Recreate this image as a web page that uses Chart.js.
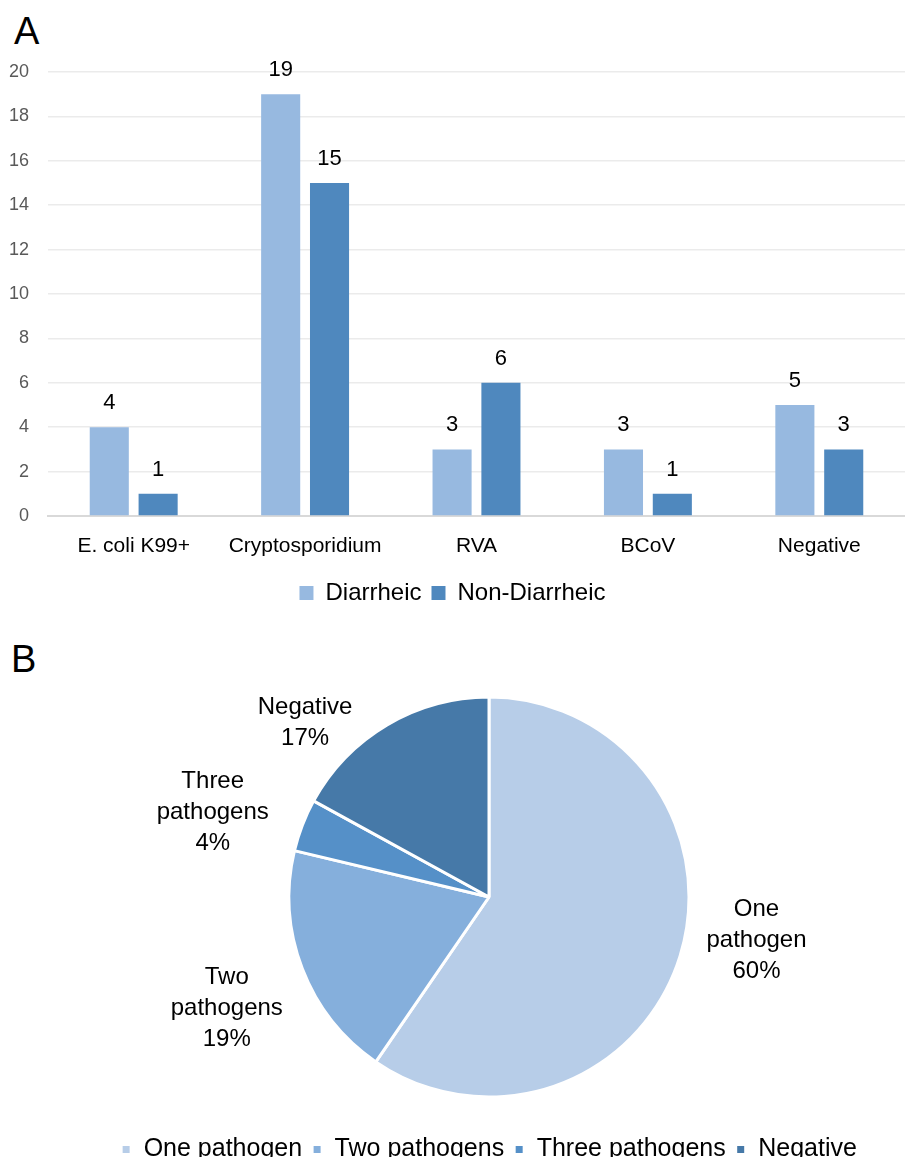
<!DOCTYPE html>
<html>
<head>
<meta charset="utf-8">
<script src="https://cdn.jsdelivr.net/npm/chart.js@4.4.1/dist/chart.umd.min.js"></script>
<style>
  html, body { margin: 0; padding: 0; background: #fff; overflow: hidden; }
  body { width: 905px; height: 1157px; position: relative; font-family: "Liberation Sans", Arial, sans-serif; }
  .panel { position: absolute; font-size: 38px; line-height: 1; color: #000; }
  #barChart { position: absolute; left: 0; top: 0; }
  #pieChart { position: absolute; left: 0; top: 615px; }
</style>
</head>
<body>
<div class="panel" style="left:14px; top:12px;">A</div>
<div class="panel" style="left:11px; top:640px;">B</div>
<canvas id="barChart" width="905" height="615"></canvas>
<canvas id="pieChart" width="905" height="564"></canvas>
<script>
// panel A
const categories = ['E. coli K99+', 'Cryptosporidium', 'RVA', 'BCoV', 'Negative']
const diarrheic = [4, 19, 3, 3, 5]
const nonDiarrheic = [1, 15, 6, 1, 3]
const yMax = 20
const yStep = 2

// panel B (counts, shown as percent)
const pieLabels = ['One pathogen', 'Two pathogens', 'Three pathogens', 'Negative']
const pieCounts = [28, 9, 2, 8]

const fontFam = '"Liberation Sans", Arial, sans-serif'

// value above each bar
const barValues = {
    id: 'barValues',
    afterDatasetsDraw(chart) {
        const ctx = chart.ctx
        ctx.save()
        ctx.font = '22px ' + fontFam
        ctx.fillStyle = '#000'
        ctx.textAlign = 'center'
        ctx.textBaseline = 'middle'
        chart.data.datasets.forEach((ds, i) => {
            chart.getDatasetMeta(i).data.forEach((bar, j) => {
                ctx.fillText(ds.data[j], bar.x, bar.y - 24)
            })
        })
        ctx.restore()
    }
}

new Chart(document.getElementById('barChart'), {
    type: 'bar',
    data: {
        labels: categories,
        datasets: [
            { label: 'Diarrheic', data: diarrheic, backgroundColor: '#97B9E0' },
            { label: 'Non-Diarrheic', data: nonDiarrheic, backgroundColor: '#4F88BE' }
        ]
    },
    options: {
        responsive: false,
        animation: false,
        categoryPercentage: 0.57,
        barPercentage: 0.8,
        layout: { padding: { top: 72, right: 0, left: 0, bottom: 0 } },
        scales: {
            x: {
                grid: { display: false, drawTicks: false },
                border: { color: '#D9D9D9', width: 2 },
                ticks: { color: '#000', font: { family: fontFam, size: 21 }, padding: 18 },
                afterFit: (s) => { s.height = 55 }
            },
            y: {
                min: 0, max: yMax,
                grid: { color: '#EBEBEB', lineWidth: 1.5, drawTicks: false },
                border: { display: false },
                ticks: { stepSize: yStep, color: '#595959', font: { family: fontFam, size: 18 }, padding: 19 },
                afterFit: (s) => { s.width = 48 }
            }
        },
        plugins: {
            legend: {
                position: 'bottom',
                labels: { boxWidth: 14, boxHeight: 14, color: '#000', font: { family: fontFam, size: 24 }, padding: 10 }
            },
            tooltip: { enabled: false }
        }
    },
    plugins: [barValues]
})

// pie labels outside the slices
const pieOutLabels = {
    id: 'pieOutLabels',
    afterDatasetsDraw(chart, args, opts) {
        const ctx = chart.ctx
        const total = pieCounts.reduce((a, b) => a + b, 0)
        ctx.save()
        ctx.font = '24px ' + fontFam
        ctx.fillStyle = '#000'
        ctx.textAlign = 'center'
        ctx.textBaseline = 'middle'
        chart.getDatasetMeta(0).data.forEach((arc, i) => {
            const mid = (arc.startAngle + arc.endAngle) / 2 + opts.shift[i] * Math.PI / 180
            const d = arc.outerRadius * opts.dist[i]
            const x = arc.x + Math.cos(mid) * d
            const y = arc.y + Math.sin(mid) * d
            const lines = pieLabels[i].split(' ')
            lines.push(Math.round(pieCounts[i] / total * 100) + '%')
            const lh = 31
            lines.forEach((t, k) => {
                ctx.fillText(t, x, y + (k - (lines.length - 1) / 2) * lh)
            })
        })
        ctx.restore()
    }
}

new Chart(document.getElementById('pieChart'), {
    type: 'pie',
    data: {
        labels: pieLabels,
        datasets: [{
            data: pieCounts,
            backgroundColor: ['#B7CDE8', '#85AFDC', '#5590C8', '#4679A8'],
            borderColor: '#fff',
            borderWidth: 3
        }]
    },
    options: {
        responsive: false,
        animation: false,
        radius: 200,
        layout: { padding: { top: 52, left: 73, right: 0, bottom: 7 } },
        plugins: {
            legend: {
                position: 'bottom',
                labels: { boxWidth: 10, boxHeight: 10, color: '#000', font: { family: fontFam, size: 25 }, padding: 10 }
            },
            tooltip: { enabled: false },
            pieOutLabels: { shift: [-8, -2, -4, -16], dist: [1.355, 1.425, 1.445, 1.265] }
        }
    },
    plugins: [pieOutLabels]
})
</script>
</body>
</html>
